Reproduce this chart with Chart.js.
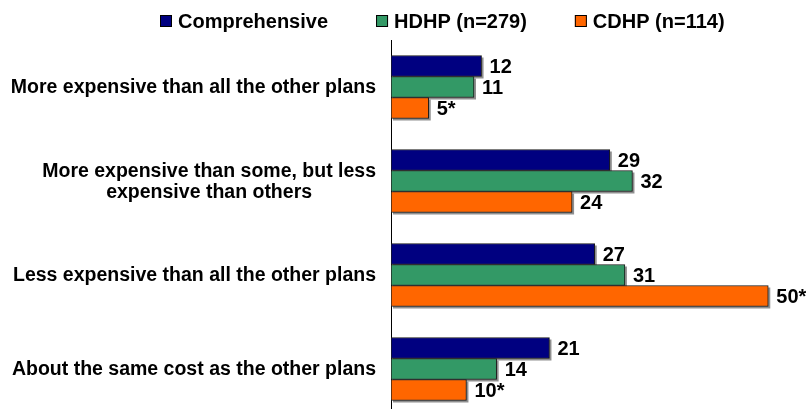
<!DOCTYPE html>
<html>
<head>
<meta charset="utf-8">
<title>Plan cost comparison</title>
<script src="https://cdn.jsdelivr.net/npm/chart.js@4/dist/chart.umd.min.js"></script>
<style>
  html, body { margin: 0; padding: 0; background: #fff; overflow: hidden; }
  #wrap { position: relative; width: 806px; height: 416px; }
</style>
</head>
<body>
<div id="wrap"><canvas id="costChart"></canvas></div>
<script>
const categories = [
  ['More expensive than all the other plans'],
  ['More expensive than some, but less', 'expensive than others'],
  ['Less expensive than all the other plans'],
  ['About the same cost as the other plans']
];
const seriesNames = ['Comprehensive', 'HDHP (n=279)', 'CDHP (n=114)'];
const comprehensive = [12, 29, 27, 21];
const hdhp = [11, 32, 31, 14];
const cdhp = [5, 24, 50, 10];
// asterisk = significant difference from comprehensive
const comprehensiveStar = [false, false, false, false];
const hdhpStar = [false, false, false, false];
const cdhpStar = [true, false, true, true];
const colors = ['#000080', '#339966', '#ff6600'];

const FONT = "'Liberation Sans', Arial, sans-serif";

// grey drop shadow behind each bar
const barShadow = {
  id: 'barShadow',
  beforeDatasetsDraw(chart) {
    const ctx = chart.ctx;
    ctx.save();
    ctx.fillStyle = '#8f8f8f';
    chart.data.datasets.forEach((ds, i) => {
      chart.getDatasetMeta(i).data.forEach(bar => {
        const { x, y, base, height } = bar.getProps(['x', 'y', 'base', 'height'], true);
        ctx.fillRect(base + 2, y - height / 2 + 2, x - base, height);
      });
    });
    ctx.restore();
  }
};

const valueLabels = {
  id: 'valueLabels',
  afterDatasetsDraw(chart) {
    const ctx = chart.ctx;
    ctx.save();
    ctx.font = 'bold 20px ' + FONT;
    ctx.fillStyle = '#000';
    ctx.textAlign = 'left';
    ctx.textBaseline = 'middle';
    chart.data.datasets.forEach((ds, i) => {
      chart.getDatasetMeta(i).data.forEach((bar, j) => {
        const txt = ds.data[j] + (ds.stars[j] ? '*' : '');
        ctx.fillText(txt, bar.x + 8, bar.y + 1);
      });
    });
    ctx.restore();
  }
};

// category names: block right-aligned to the axis, lines centred within it
const categoryLabels = {
  id: 'categoryLabels',
  afterDraw(chart) {
    const yScale = chart.scales.y;
    const ctx = chart.ctx;
    ctx.save();
    ctx.font = 'bold 19.5px ' + FONT;
    ctx.fillStyle = '#000';
    ctx.textAlign = 'center';
    ctx.textBaseline = 'middle';
    const right = yScale.right - 15;
    const lh = 21;
    categories.forEach((lines, i) => {
      const cy = yScale.getPixelForTick(i);
      const blockW = Math.max(...lines.map(l => ctx.measureText(l).width));
      lines.forEach((l, k) => {
        ctx.fillText(l, right - blockW / 2, cy + 1 + (k - (lines.length - 1) / 2) * lh);
      });
    });
    ctx.restore();
  }
};

const legendRow = {
  id: 'legendRow',
  afterDraw(chart) {
    const ctx = chart.ctx;
    ctx.save();
    ctx.font = 'bold 20px ' + FONT;
    ctx.textAlign = 'left';
    ctx.textBaseline = 'middle';
    let x = 160;
    const cy = 21;
    chart.data.datasets.forEach(ds => {
      ctx.fillStyle = ds.backgroundColor;
      ctx.fillRect(x, cy - 6, 12, 12);
      ctx.strokeStyle = '#000';
      ctx.lineWidth = 1;
      ctx.strokeRect(x + 0.5, cy - 5.5, 11, 11);
      ctx.fillStyle = '#000';
      ctx.fillText(ds.label, x + 18, cy + 1);
      x += 18 + ctx.measureText(ds.label).width + 48;
    });
    ctx.restore();
  }
};

const seriesValues = [comprehensive, hdhp, cdhp];
const seriesStars = [comprehensiveStar, hdhpStar, cdhpStar];

new Chart(document.getElementById('costChart'), {
  type: 'bar',
  data: {
    labels: categories,
    datasets: seriesNames.map((name, i) => ({
      label: name,
      data: seriesValues[i],
      stars: seriesStars[i],
      backgroundColor: colors[i],
      borderColor: '#1a1a1a',
      borderWidth: 1,
      borderSkipped: false,
      barThickness: 21
    }))
  },
  options: {
    indexAxis: 'y',
    responsive: true,
    maintainAspectRatio: false,
    animation: false,
    layout: { padding: { top: 40, left: 0, right: 0, bottom: 0 } },
    scales: {
      x: { display: false, min: 0, max: 55 },
      y: {
        grid: { display: false },
        border: { display: true, color: '#000', width: 1 },
        ticks: { display: false },
        afterFit(scale) { scale.width = 391; }
      }
    },
    plugins: {
      legend: { display: false },
      tooltip: { enabled: false }
    }
  },
  plugins: [barShadow, valueLabels, categoryLabels, legendRow]
});
</script>
</body>
</html>
